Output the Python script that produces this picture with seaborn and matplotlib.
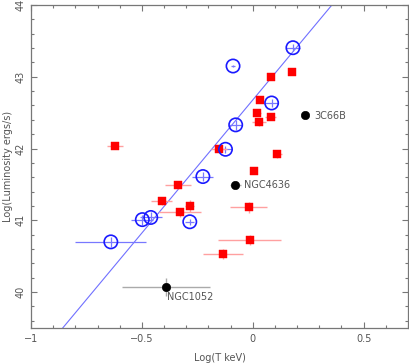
import numpy as np
import pandas as pd
import matplotlib
matplotlib.use("Agg")
import matplotlib.pyplot as plt
import seaborn as sns
from matplotlib.ticker import MultipleLocator

# ---- data ----
blue_x = [0.181, -0.089, 0.085, -0.077, -0.123, -0.225, -0.284, -0.460, -0.498, -0.640]
blue_y = [43.405, 43.15, 42.635, 42.33, 41.99, 41.61, 40.98, 41.04, 41.01, 40.70]
blue_xerr = [0.03, 0.01, 0.03, 0.03, 0.03, 0.047, 0.02, 0.05, 0.05, 0.16]
blue_yerr = [0.05, 0.02, 0.06, 0.07, 0.05, 0.06, 0.04, 0.07, 0.07, 0.07]

red_x = [0.080, 0.178, 0.031, 0.019, 0.080, 0.028, -0.152, 0.111, 0.007,
         -0.338, -0.411, -0.284, -0.329, -0.019, -0.014, -0.134, -0.622]
red_y = [43.00, 43.06, 42.67, 42.50, 42.44, 42.37, 41.99, 41.92, 41.69,
         41.49, 41.27, 41.20, 41.11, 41.18, 40.73, 40.53, 42.04]
red_xerr = [0.01, 0.01, 0.01, 0.02, 0.027, 0.03, 0.037, 0.02, 0.01,
            0.06, 0.047, 0.02, 0.096, 0.085, 0.143, 0.09, 0.037]
red_yerr = [0.03, 0.03, 0.03, 0.04, 0.04, 0.05, 0.05, 0.05, 0.03,
            0.05, 0.05, 0.08, 0.06, 0.08, 0.07, 0.075, 0.04]

black_x = [0.237, -0.078, -0.390]
black_y = [42.47, 41.49, 40.07]
black_xerr = [0.0, 0.025, 0.198]
black_yerr = [0.0, 0.0, 0.127]
black_names = ["3C66B", "NGC4636", "NGC1052"]

fit_slope = 3.707
fit_intercept = 42.677
fit_x = [-0.90, 0.40]

x_ticks = [-1, -0.5, 0, 0.5]
x_ticklabels = ["\u22121", "\u22120.5", "0", "0.5"]
y_ticks = [40, 41, 42, 43, 44]

# ---- drawing ----
sns.set_style("ticks")
plt.rcParams['font.family'] = ['DejaVu Sans']
grey = "#777777"
fig = plt.figure(figsize=(4.09, 3.64), dpi=100)
ax = fig.add_axes([31/409, 1-328/364, (408-31)/409, (328-5)/364])

# fit line
line_df = pd.DataFrame({"x": fit_x, "y": [fit_intercept + fit_slope*v for v in fit_x]})
sns.lineplot(data=line_df, x="x", y="y", ax=ax, color="#7070ff", lw=0.8, zorder=1)

# error bars
ax.errorbar(blue_x, blue_y, xerr=blue_xerr, yerr=blue_yerr, fmt="none",
            ecolor="#7878ff", elinewidth=0.9, zorder=2)
ax.errorbar(red_x, red_y, xerr=red_xerr, yerr=red_yerr, fmt="none",
            ecolor="#ffa0a0", elinewidth=1.0, zorder=2)
ax.errorbar(black_x, black_y, xerr=black_xerr, yerr=black_yerr, fmt="none",
            ecolor="#aaaaaa", elinewidth=1.0, zorder=2)

# markers
sns.scatterplot(x=red_x, y=red_y, ax=ax, marker="s", s=40, color="#ff0000",
                edgecolor="#ff0000", linewidth=0.3, zorder=3)
sns.scatterplot(x=blue_x, y=blue_y, ax=ax, marker="o", s=92, facecolor="none",
                edgecolor="#1a1aff", linewidth=1.2, zorder=4)
sns.scatterplot(x=black_x, y=black_y, ax=ax, marker="o", s=36, color="black",
                edgecolor="black", zorder=5)

# labels for black points
offsets = [(9, -1.5), (9, 0), (0.5, -9.5)]
for xv, yv, name, (dx, dy) in zip(black_x, black_y, black_names, offsets):
    ax.annotate(name, (xv, yv), xytext=(dx, dy), textcoords="offset pixels",
                ha="left", va="center", fontsize=7, color="#555555")

ax.set_xlim(-1, 0.7)
ax.set_ylim(39.5, 44)
ax.set_xticks(x_ticks)
ax.set_xticklabels(x_ticklabels)
ax.set_yticks(y_ticks)
ax.set_yticklabels([str(v) for v in y_ticks], rotation=90, va="center")
ax.xaxis.set_minor_locator(MultipleLocator(0.1))
ax.yaxis.set_minor_locator(MultipleLocator(0.2))
ax.tick_params(which="both", direction="in", top=True, right=True, colors=grey,
               labelcolor="#555555", labelsize=7, width=0.8)
ax.tick_params(which="major", length=4.5, pad=4)
ax.tick_params(which="minor", length=2.5)
for sp in ax.spines.values():
    sp.set_color(grey)
    sp.set_linewidth(0.9)

ax.set_xlabel("Log(T keV)", fontsize=7, color="#555555", labelpad=7)
ax.set_ylabel("Log(Luminosity ergs/s)", fontsize=7, color="#555555", labelpad=2)

fig.savefig("out.png", dpi=100)
